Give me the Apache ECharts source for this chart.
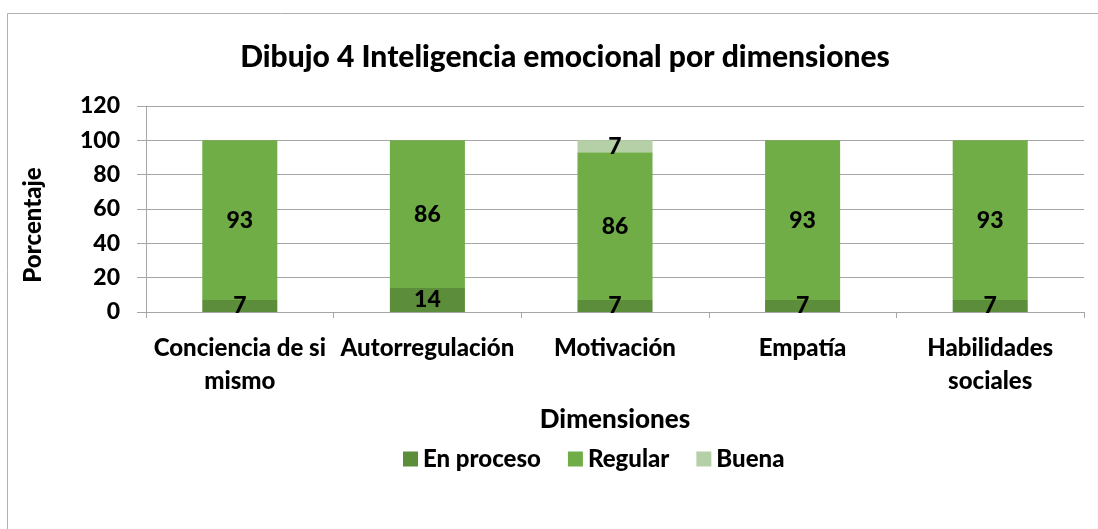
<!DOCTYPE html>
<html>
<head>
<meta charset="utf-8">
<script src="https://cdn.jsdelivr.net/npm/echarts@6/dist/echarts.min.js"></script>
<style>
  html, body { margin: 0; padding: 0; background: #fff; }
  #chart { width: 1098px; height: 529px; }
</style>
</head>
<body>
<div id="chart"></div>
<script>
const categories = ['Conciencia de si\nmismo', 'Autorregulación', 'Motivación', 'Empatía', 'Habilidades\nsociales']
const enProceso = [7, 14, 7, 7, 7]
const regular = [93, 86, 86, 93, 93]
const buena = [null, null, 7, null, null]
const yTicks = [0, 20, 40, 60, 80, 100, 120]

const font = 'Lato, "Open Sans", sans-serif'
const weight = 900

function barSeries(name, data, color) {
  return {
    name: name,
    type: 'bar',
    stack: 'total',
    barWidth: '40%',
    data: data,
    itemStyle: { color: color },
    label: {
      show: true,
      position: 'inside',
      color: '#000',
      fontFamily: font,
      fontWeight: weight,
      fontSize: 23,
    },
  }
}

const chart = echarts.init(document.getElementById('chart'))
chart.setOption({
  animation: false,
  backgroundColor: '#fff',
  title: {
    text: 'Dibujo 4 Inteligencia emocional por dimensiones',
    left: 560,
    top: 37,
    textAlign: 'center',
    textStyle: { fontFamily: font, fontWeight: weight, fontSize: 30, color: '#000' },
  },
  graphic: [{
    type: 'rect',
    shape: { x: 7.5, y: 13.5, width: 1200, height: 600 },
    style: { fill: 'none', stroke: '#b0b0b0', lineWidth: 1 },
    silent: true,
  }],
  legend: {
    left: 398,
    top: 442,
    itemWidth: 15,
    itemHeight: 15,
    itemGap: 27,
    icon: 'rect',
    textStyle: { fontFamily: font, fontWeight: weight, fontSize: 24, color: '#000' },
    data: ['En proceso', 'Regular', 'Buena'],
  },
  grid: { left: 146, right: 14, top: 106, bottom: 217 },
  xAxis: {
    type: 'category',
    data: categories,
    name: 'Dimensiones',
    nameLocation: 'middle',
    nameGap: 95,
    nameTextStyle: { fontFamily: font, fontWeight: weight, fontSize: 26, color: '#000' },
    axisLine: { lineStyle: { color: '#a6a6a6' } },
    axisTick: { show: true, length: 6, lineStyle: { color: '#a6a6a6' } },
    axisLabel: {
      margin: 20,
      interval: 0,
      lineHeight: 33,
      fontFamily: font, fontWeight: weight, fontSize: 24, color: '#000',
    },
  },
  yAxis: {
    type: 'value',
    min: yTicks[0],
    max: yTicks[yTicks.length - 1],
    interval: 20,
    name: 'Porcentaje',
    nameLocation: 'middle',
    nameGap: 101,
    nameTextStyle: { fontFamily: font, fontWeight: weight, fontSize: 24, color: '#000', padding: [0, 32, 0, 0] },
    axisLine: { show: true, lineStyle: { color: '#a6a6a6' } },
    axisTick: { show: true, length: 9, lineStyle: { color: '#a6a6a6' } },
    splitLine: { lineStyle: { color: '#a6a6a6' } },
    axisLabel: { margin: 26, fontFamily: font, fontWeight: weight, fontSize: 23, color: '#000' },
  },
  series: [
    barSeries('En proceso', enProceso, '#5b8d3a'),
    barSeries('Regular', regular, '#70ad47'),
    barSeries('Buena', buena, '#b5d0a6'),
  ],
})
</script>
</body>
</html>
